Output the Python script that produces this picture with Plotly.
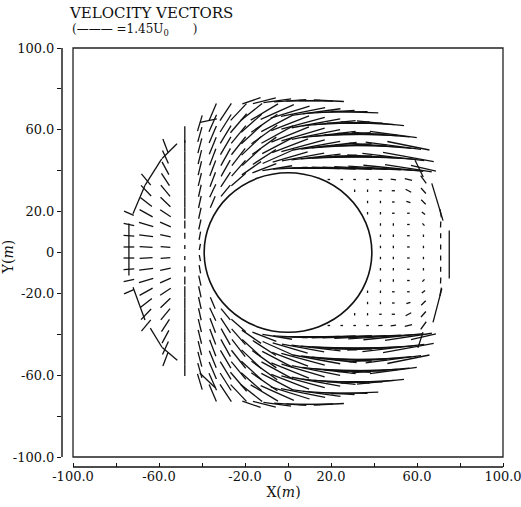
import math
import plotly.graph_objects as go

# ---------------- data ----------------
ISLAND_RADIUS = 39.0          # circular island centred at (0, 0), metres

# vector nodes, one string per grid row:  "x:angle/length"
# angle in degrees (0 = along +x), length in metres (1.45 U0 per scale bar)
UPPER_ROWS_Y = [74.2, 68.7, 63.2, 57.7, 52.2, 46.7, 41.2, 35.7, 30.2, 24.7, 19.2, 13.7, 8.2, 2.7]
UPPER_ROWS = [
    "-17:20/9 -11:15/11 -5:8/13 1:4/15 7:1/16 13:-1/16 19:-3/14",
    "-35:68/9 -29:58/10 -23:48/11 -17:40/13 -11:32/15 -5:25/17 1:18/19 7:12/21 13:8/23 19:4/24 25:1/24 31:-2/22",
    "-41:74/8 -35:67/9 -29:59/10 -23:51/12 -17:43/13 -11:36/15 -5:29/17 1:22/19 7:16/21 13:11/23 19:6/25 25:3/26 31:0/26 37:-3/25 43:-6/22",
    "-48:90/8 -41:75/7.5 -35:68/9 -29:60/10 -23:52/11 -17:44/13 -11:37/15 -5:30/17 1:23/19 7:17/21 13:12/23 19:7/25 25:4/27 31:1/28 37:-2/28 43:-5/27 49:-8/22",
    "-57:-70/7 -48:90/5.5 -41:76/7.5 -35:69/9 -29:61/10 -23:53/11 -17:45/13 -11:37/14 -5:29/16 1:22/18 7:16/21 13:11/23 19:7/26 25:4/28 31:1/30 37:-2/30 43:-5/29 49:-8/26 56:-12/20",
    "-57:-67/7 -48:90/5.5 -41:77/7 -35:70/8.5 -29:62/9.5 -23:54/10.5 -17:44/12 -11:34/13 -5:25/15 1:17/17 7:11/20 13:7/23 19:4/26 25:2/28 31:0/30 37:-2/31 43:-4/31 49:-7/29 56:-11/24",
    "-57:-63/7 -48:90/5.5 -41:77/7 -35:70/8 -29:62/9 -23:50/10 -17:36/11 -11:22/12 -5:10/14 1:3/16 7:0/19 13:-1/22 19:-2/25 25:-2/28 31:-2/30 37:-3/31 43:-4/30 49:-6/28 56:-9/22 63:-14/12",
    "-66:-52/7 -57:-58/7 -48:90/5.5 -41:77/6.5 -35:70/7.5 -29:58/8.5 -23:42/9 19:0/1.2 25:0/1.2 31:0/1.2 37:0/1.2 43:-5/2 49:-8/2.5 56:-15/3.5 63:-55/4.5",
    "-66:-48/7 -57:-52/7 -48:90/5.5 -41:78/6 -35:66/7 -29:52/7 31:90/1.2 37:90/1.2 43:0/1.2 49:0/1.5 56:-30/3 63:-50/3.5",
    "-66:-40/7 -57:-45/6.5 -48:90/5.5 -41:78/6 -35:68/6 37:90/1.2 43:90/1.2 49:0/1.2 56:-20/2 63:-45/3",
    "-74:-25/5 -66:-30/7 -57:-35/6 -48:90/5.5 -41:78/5.5 37:90/1.2 43:90/1.2 49:0/1.2 56:0/1.2 63:-40/2 71:-80/4",
    "-74:-12/5 -66:-18/7 -57:-25/5.5 -48:90/4 -41:78/5 43:90/1.2 49:90/1.2 56:0/1.2 63:-50/1.5 71:88/3",
    "-74:-4/5 -66:-8/6.5 -57:-12/5 -48:90/3 -41:80/4 43:90/1.2 49:90/1.2 56:0/1.2 63:90/1.2 71:90/2.5",
    "-74:0/5 -66:-3/6 -57:-5/4.5 -48:90/2 -41:80/3 43:90/1.2 49:90/1.2 56:0/1.2 63:90/1.2 71:90/2.5",
]

LOWER_ROWS_Y = [-2.7, -8.2, -13.7, -19.2, -24.7, -30.2, -35.7, -41.2, -46.7, -52.2, -57.7, -63.2, -68.7, -74.2]
LOWER_ROWS = [
    "-74:0/5 -66:3/6 -57:5/4.5 -48:90/2 -41:-80/3 43:90/1.2 49:90/1.2 56:0/1.2 63:90/1.2 71:90/2.5",
    "-74:4/5 -66:8/6.5 -57:12/5 -48:90/3 -41:-80/4 43:90/1.2 49:90/1.2 56:0/1.2 63:90/1.2 71:90/2.5",
    "-74:12/5 -66:18/7 -57:25/5.5 -48:90/4 -41:-78/5 43:90/1.2 49:90/1.2 56:0/1.2 63:50/1.5 71:88/3",
    "-74:25/5 -66:30/7 -57:35/6 -48:90/5.5 -41:-78/5.5 37:90/1.2 43:90/1.2 49:0/1.2 56:0/1.2 63:40/2 71:80/4",
    "-66:40/7 -57:45/6.5 -48:90/5.5 -41:-78/6 -35:-68/6 37:90/1.2 43:90/1.2 49:0/1.2 56:20/2 63:45/3",
    "-66:48/7 -57:52/7 -48:90/5.5 -41:-78/6 -35:-66/7 -29:-52/7 31:90/1.2 37:90/1.2 43:0/1.2 49:0/1.5 56:30/3 63:50/3.5",
    "-66:52/7 -57:58/7 -48:90/5.5 -41:-77/6.5 -35:-70/7.5 -29:-58/8.5 -23:-42/9 19:0/1.2 25:0/1.2 31:0/1.2 37:0/1.2 43:5/2 49:8/2.5 56:15/3.5 63:55/4.5",
    "-57:63/7 -48:90/5.5 -41:-77/7 -35:-70/8 -29:-62/9 -23:-50/10 -17:-36/11 -11:-22/12 -5:-10/14 1:-3/16 7:0/19 13:1/22 19:2/25 25:2/28 31:2/30 37:3/31 43:4/30 49:6/28 56:9/22 63:14/12",
    "-57:67/7 -48:90/5.5 -41:-77/7 -35:-70/8.5 -29:-62/9.5 -23:-54/10.5 -17:-44/12 -11:-34/13 -5:-25/15 1:-17/17 7:-11/20 13:-7/23 19:-4/26 25:-2/28 31:0/30 37:2/31 43:4/31 49:7/29 56:11/24",
    "-57:70/7 -48:90/5.5 -41:-76/7.5 -35:-69/9 -29:-61/10 -23:-53/11 -17:-45/13 -11:-37/14 -5:-29/16 1:-22/18 7:-16/21 13:-11/23 19:-7/26 25:-4/28 31:-1/30 37:2/30 43:5/29 49:8/26 56:12/20",
    "-48:90/5.5 -41:-75/7.5 -35:-68/9 -29:-60/10 -23:-52/11 -17:-44/13 -11:-37/15 -5:-30/17 1:-23/19 7:-17/21 13:-12/23 19:-7/25 25:-4/27 31:-1/28 37:2/28 43:5/27 49:8/22",
    "-41:-74/8 -35:-67/9 -29:-59/10 -23:-51/12 -17:-43/13 -11:-36/15 -5:-29/17 1:-22/19 7:-16/21 13:-11/23 19:-6/25 25:-3/26 31:0/26 37:3/25 43:6/22",
    "-35:-68/9 -29:-58/10 -23:-48/11 -17:-40/13 -11:-32/15 -5:-25/17 1:-18/19 7:-12/21 13:-8/23 19:-4/24 25:-1/24 31:2/22",
    "-17:-20/9 -11:-15/11 -5:-8/13 1:-4/15 7:-1/16 13:1/16 19:3/14",
]

# vectors on the outer edge of the computational domain
EDGE_X = [-74.0, 75.0, -69.3, -62.6, -55.1, -37.0, -69.3, -61.3, -55.0, -37.5, 69.5, 61.0, 69.5, 61.6]
EDGE_Y = [1.5, -1.0, 25.9, 39.4, 49.6, 64.5, -25.0, -41.7, -49.6, -62.5, 24.7, 41.0, -25.9, -42.8]
EDGE_ANGLE = [90, 90, 68, 59, 46, 13, -71, -60, -42, -45, -74, -65, 76, 73]
EDGE_LEN = [25.4, 23.5, 15, 15, 10, 8, 17, 11, 9.4, 10, 19, 9, 17, 8]

TICK_VALUES = [-100, -60, -20, 0, 20, 60, 100]
TICK_TEXT = ["-100.0", "-60.0", "-20.0", "0", "20.0", "60.0", "100.0"]

# ---------------- build the segments ----------------
seg_x, seg_y = [], []


def add_vector(x, y, angle, length):
    a = math.radians(angle)
    h = length / 2.0
    seg_x.extend([x - h * math.cos(a), x + h * math.cos(a), None])
    seg_y.extend([y - h * math.sin(a), y + h * math.sin(a), None])


for rows_y, rows in ((UPPER_ROWS_Y, UPPER_ROWS), (LOWER_ROWS_Y, LOWER_ROWS)):
    for y, row in zip(rows_y, rows):
        for tok in row.split():
            xs, rest = tok.split(":")
            ang, ln = rest.split("/")
            add_vector(float(xs), y, float(ang), float(ln))

for x, y, a, l in zip(EDGE_X, EDGE_Y, EDGE_ANGLE, EDGE_LEN):
    add_vector(x, y, a, l)

fig = go.Figure()
fig.add_trace(go.Scatter(x=seg_x, y=seg_y, mode="lines",
                         line=dict(color="#111111", width=1.3),
                         hoverinfo="skip", showlegend=False))

FONT = "DejaVu Serif"
X_RANGE = [-105.12, 100.93]
Y_RANGE = [-104.89, 100.98]


def axis_style(tick_dir, title, standoff):
    return dict(tickvals=TICK_VALUES, ticktext=TICK_TEXT, ticks=tick_dir,
                ticklen=4, tickwidth=1.2, tickcolor="#111111",
                minor=dict(tick0=0, dtick=20, ticks=tick_dir, ticklen=4,
                           tickwidth=1.2, tickcolor="#111111", showgrid=False),
                showgrid=False, zeroline=False, showline=False, automargin=False,
                ticklabeloverflow="allow",
                tickfont=dict(family=FONT, size=13, color="#111111"),
                title=dict(text=title, standoff=standoff,
                           font=dict(family=FONT, size=14, color="#111111")))


fig.update_layout(
    width=521, height=507,
    margin=dict(l=62, r=16, t=46, b=40, autoexpand=False),
    paper_bgcolor="white", plot_bgcolor="white",
    showlegend=False,
    title=dict(text="VELOCITY VECTORS", xref="paper", x=(70 - 62) / 443, xanchor="left",
               yref="container", y=1 - 13 / 507, yanchor="middle",
               font=dict(family=FONT, size=15, color="#111111")),
    xaxis=dict(range=X_RANGE, **axis_style("inside", "X(<i>m</i>)", 1)),
    yaxis=dict(range=Y_RANGE, **axis_style("outside", "Y(<i>m</i>)", 0)),
    shapes=[
        dict(type="rect", xref="x", yref="y", x0=-100, x1=100, y0=-100, y1=100,
             line=dict(color="#222222", width=1.3)),
        dict(type="circle", xref="x", yref="y",
             x0=-ISLAND_RADIUS, x1=ISLAND_RADIUS, y0=-ISLAND_RADIUS, y1=ISLAND_RADIUS,
             line=dict(color="#111111", width=1.6)),
        dict(type="line", xref="x", yref="paper", x0=-100, x1=100, y0=0, y1=0,
             line=dict(color="#111111", width=1.4)),
        dict(type="line", xref="paper", yref="y", x0=0, x1=0, y0=-100, y1=100,
             line=dict(color="#111111", width=1.4)),
    ],
    annotations=[
        dict(text="(\u2014\u2014\u2014 =1.45U<sub>0</sub>\u2003\u2003)", xref="paper", yref="paper",
             x=(70 - 62) / 443, y=(467 - 30) / 421, xanchor="left", yanchor="middle",
             showarrow=False, font=dict(family=FONT, size=12, color="#111111")),
    ],
)

fig.write_html("out.html", config={"displayModeBar": False},
               post_script="document.body.style.margin='0';")
